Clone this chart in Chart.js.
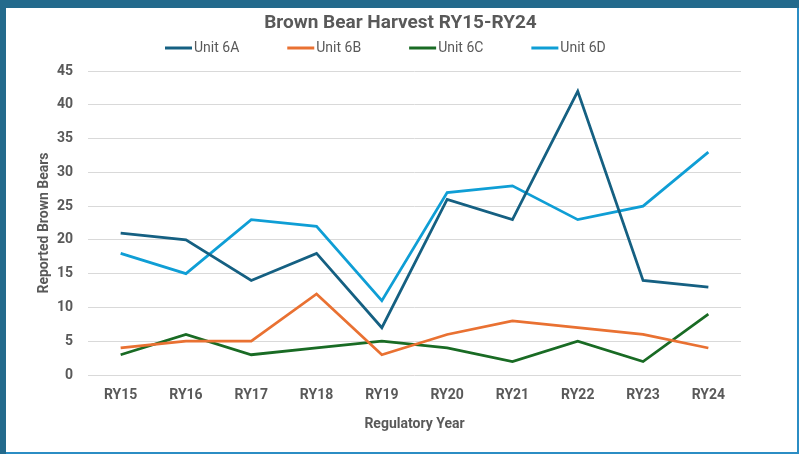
<!DOCTYPE html>
<html>
<head>
<meta charset="utf-8">
<script src="https://cdn.jsdelivr.net/npm/chart.js@4.4.1/dist/chart.umd.min.js"></script>
<style>
  html, body { margin: 0; padding: 0; }
  body { width: 799px; height: 454px; background: #236a8c; position: relative; overflow: hidden; }
  #box { position: absolute; left: 6px; top: 8px; width: 791px; height: 444px; background: #fff;
         border-right: 2px solid #2b8dc4; border-bottom: 2px solid #2b8dc4; }
</style>
</head>
<body>
<div id="box"><canvas id="harvestChart" width="791" height="444"></canvas></div>
<script>
const years = ["RY15", "RY16", "RY17", "RY18", "RY19", "RY20", "RY21", "RY22", "RY23", "RY24"];
const unit6A = [21, 20, 14, 18, 7, 26, 23, 42, 14, 13];
const unit6B = [4, 5, 5, 12, 3, 6, 8, 7, 6, 4];
const unit6C = [3, 6, 3, 4, 5, 4, 2, 5, 2, 9];
const unit6D = [18, 15, 23, 22, 11, 27, 28, 23, 25, 33];
const chartTitle = "Brown Bear Harvest RY15-RY24";

const fontFamily = "'Roboto', sans-serif";
const textGrey = "#595959";

function series(label, data, colour) {
    return {
        label: label,
        data: data,
        borderColor: colour,
        backgroundColor: colour,
        borderWidth: 2.75,
        pointRadius: 0,
        tension: 0,
        fill: false
    };
}

// title and legend drawn by hand so they sit where the original has them
const header = {
    id: "header",
    afterDraw(chart) {
        const ctx = chart.ctx;
        ctx.save();
        ctx.textBaseline = "middle";
        ctx.fillStyle = textGrey;
        ctx.textAlign = "center";
        ctx.font = "bold 19px " + fontFamily;
        ctx.fillText(chartTitle, chart.width / 2 - 1, 15);

        ctx.textAlign = "left";
        ctx.font = "14px " + fontFamily;
        let x = 159;
        const y = 40;
        chart.data.datasets.forEach(function (ds) {
            ctx.strokeStyle = ds.borderColor;
            ctx.lineWidth = 3;
            ctx.beginPath();
            ctx.moveTo(x, y);
            ctx.lineTo(x + 27, y);
            ctx.stroke();
            ctx.fillStyle = textGrey;
            ctx.fillText(ds.label, x + 29, y);
            x += 29 + ctx.measureText(ds.label).width + 48;
        });
        ctx.restore();
    }
};

const ctx = document.getElementById("harvestChart").getContext("2d");
const chart = new Chart(ctx, {
    type: "line",
    data: {
        labels: years,
        datasets: [
            series("Unit 6A", unit6A, "#156082"),
            series("Unit 6B", unit6B, "#e97132"),
            series("Unit 6C", unit6C, "#196b24"),
            series("Unit 6D", unit6D, "#0f9ed5")
        ]
    },
    plugins: [header],
    options: {
        responsive: false,
        animation: false,
        devicePixelRatio: 1,
        layout: { padding: { left: 20, right: 56, top: 63, bottom: 0 } },
        plugins: {
            legend: { display: false },
            tooltip: { enabled: false },
            title: { display: false }
        },
        scales: {
            x: {
                offset: true,
                grid: { display: false, drawTicks: false },
                border: { display: false },
                ticks: { color: textGrey, padding: 12, font: { family: fontFamily, size: 14, weight: "bold" } },
                title: {
                    display: true,
                    text: "Regulatory Year",
                    color: textGrey,
                    font: { family: fontFamily, size: 14, weight: "bold" },
                    padding: { top: 0, bottom: 19 }
                },
                afterFit(scale) { scale.height = 77; }
            },
            y: {
                min: 0,
                max: 45,
                ticks: { stepSize: 5, color: textGrey, padding: 15, font: { family: fontFamily, size: 14, weight: "bold" } },
                grid: { color: "#d9d9d9", lineWidth: 1, drawTicks: false },
                border: { display: false },
                title: {
                    display: true,
                    text: "Reported Brown Bears",
                    color: textGrey,
                    font: { family: fontFamily, size: 14, weight: "bold" },
                    padding: { top: 10, bottom: 0 }
                },
                afterFit(scale) { scale.width = 62; }
            }
        }
    }
});
</script>
</body>
</html>
